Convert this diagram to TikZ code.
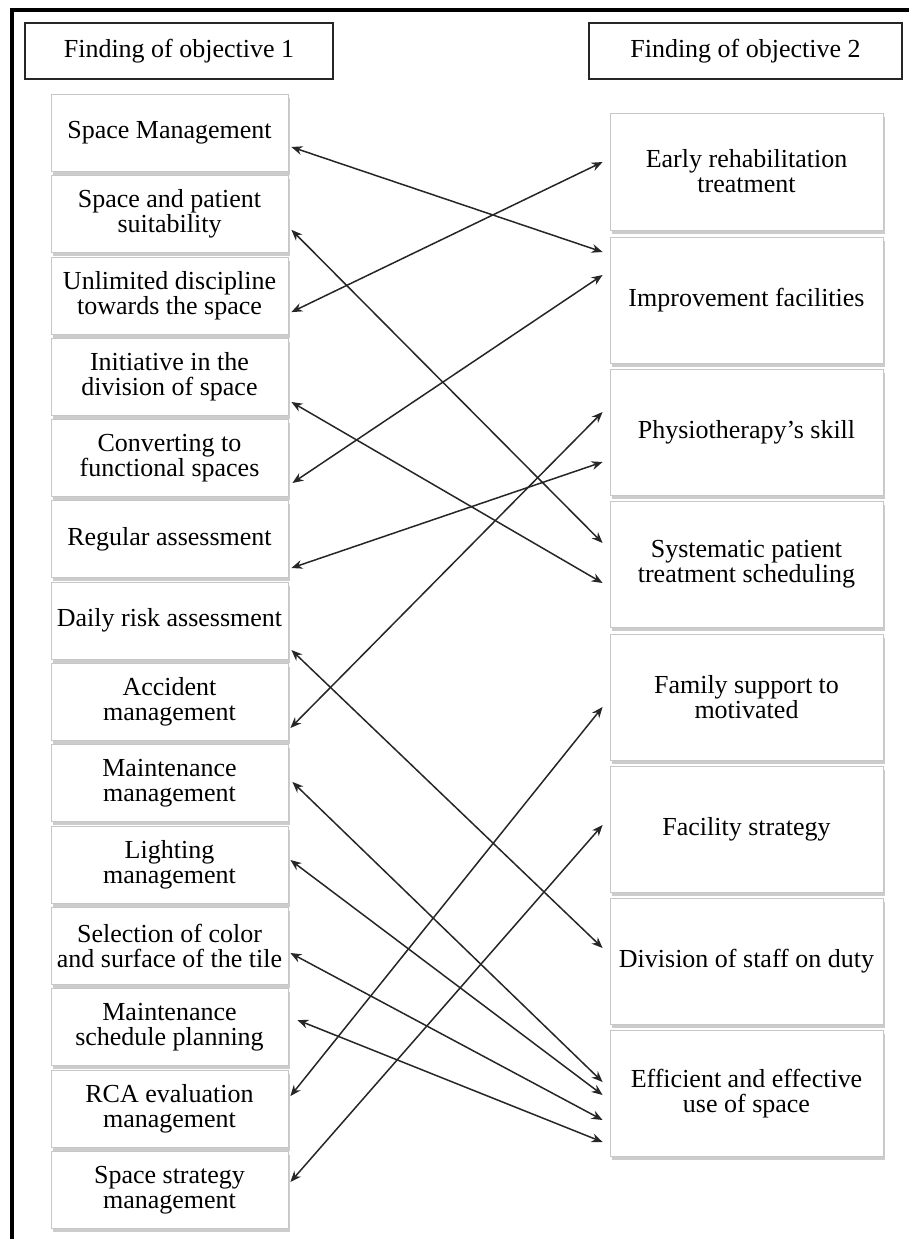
\documentclass[tikz,border=0pt]{standalone}
\usepackage{fontspec}
\setmainfont{Liberation Serif}
\usetikzlibrary{
		arrows.meta,
		calc,
		shadows
	}
\tikzset{
		>={Stealth[length=5.5pt,width=4.4pt]},
		heading/.style={draw=black!85, line width=0.7pt, minimum width=154pt, minimum height=28pt, inner sep=0pt, font=\fontsize{13}{12.5}\selectfont},
		finding/.style={draw=black!22, line width=0.4pt, fill=white, align=center, inner sep=0pt, font=\fontsize{13}{12.5}\selectfont, drop shadow={shadow xshift=0.8pt, shadow yshift=-1.8pt, fill=black!40}},
		left finding/.style={finding, minimum width=118.5pt, minimum height=38.5pt},
		right finding/.style={finding, minimum width=136.5pt, minimum height=#1},
		right finding/.default=63pt,
		link/.style={<->, line width=0.75pt, black!85}
	}

\begin{document}
\begin{tikzpicture}[x=0.5pt, y=-0.5pt] % one unit = one pixel of the page, y going down
		\useasboundingbox (0,0) rectangle (909,1239);
		\draw[line width=2pt] (12,1239) -- (12,10) -- (909,10);
		\node[heading] (obj1) at (179,51) {Finding of objective 1};
		\node[heading, minimum width=156.5pt] (obj2) at (745.5,51) {Finding of objective 2};
		% findings of objective 1
		\foreach \txt [count=\k] in {{Space Management}, {Space and patient\\suitability}, {Unlimited discipline\\towards the space}, {Initiative in the\\division of space}, {Converting to\\functional spaces}, {Regular assessment}, {Daily risk assessment}, {Accident\\management}, {Maintenance\\management}, {Lighting\\management}, {Selection of color\\and surface of the tile}, {Maintenance\\schedule planning}, {RCA evaluation\\management}, {Space strategy\\management}}{
			\node[left finding] (l\k) at (169.5, 51.5+81.3*\k) {\txt};
		}
		% findings of objective 2
		\foreach \txt/\y/\h [count=\k] in {{Early rehabilitation\\treatment}/171.5/58.5pt, {Improvement facilities}/300/63pt, {Physiotherapy's skill}/432.3/63pt, {Systematic patient\\treatment scheduling}/564.6/63pt, {Family support to\\motivated}/696.9/63pt, {Facility strategy}/829.2/63pt, {Division of staff on duty}/961.5/63pt, {Efficient and effective\\use of space}/1093.8/63pt}{
			\node[right finding=\h] (r\k) at (746.5, \y) {\txt};
		}
		% links between the two columns
		\foreach \a/\gap/\da/\b/\db in {1/3/14.2/2/-48, 2/3/15.7/4/-21.6, 3/3/16.7/1/-9.5, 4/3/25.3/4/18.4, 5/4/25/2/-25, 6/3/28.7/3/29.7, 7/3/29.4/7/-13.5, 8/2/26.1/3/-20.3, 9/4/-1.3/8/-11.8, 10/2/-4.5/8/1.2, 11/2/7.2/8/26.2, 12/9/-7.1/8/48.2, 13/2/-12.3/5/10, 14/2/-7.7/6/-4.2}{
			\draw[link] ($(l\a.east)+(\gap,\da)$) -- ($(r\b.west)+(-7,\db)$);
		}
	\end{tikzpicture}
\end{document}
